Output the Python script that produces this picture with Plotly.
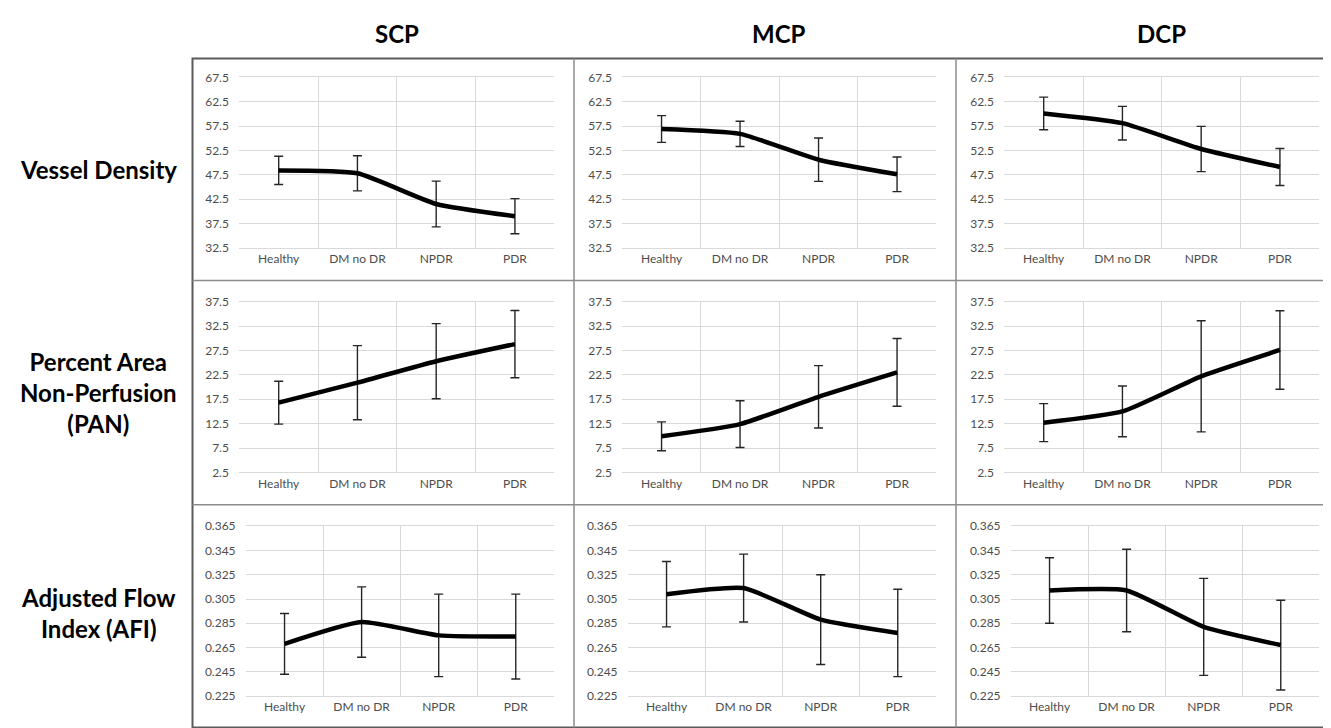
import plotly.graph_objects as go

W, H = 1331, 728

categories = ["Healthy", "DM no DR", "NPDR", "PDR"]
plexuses = ["SCP", "MCP", "DCP"]
metrics = ["Vessel Density", "Percent Area<br>Non-Perfusion<br>(PAN)", "Adjusted Flow<br>Index (AFI)"]

# Vessel Density
vd_scp_mean = [48.4, 47.8, 41.5, 39.0]
vd_scp_sd = [2.9, 3.6, 4.7, 3.6]
vd_mcp_mean = [56.9, 55.9, 50.6, 47.6]
vd_mcp_sd = [2.75, 2.6, 4.45, 3.55]
vd_dcp_mean = [60.1, 58.1, 52.8, 49.1]
vd_dcp_sd = [3.35, 3.45, 4.65, 3.8]

# Percent Area Non-Perfusion
pan_scp_mean = [16.8, 20.9, 25.3, 28.8]
pan_scp_sd = [4.4, 7.6, 7.7, 6.9]
pan_mcp_mean = [9.9, 12.4, 18.0, 23.0]
pan_mcp_sd = [2.95, 4.8, 6.4, 6.95]
pan_dcp_mean = [12.7, 15.0, 22.2, 27.6]
pan_dcp_sd = [3.9, 5.2, 11.4, 8.05]

# Adjusted Flow Index
afi_scp_mean = [0.268, 0.286, 0.275, 0.274]
afi_scp_sd = [0.025, 0.029, 0.034, 0.035]
afi_mcp_mean = [0.309, 0.314, 0.288, 0.277]
afi_mcp_sd = [0.027, 0.028, 0.037, 0.036]
afi_dcp_mean = [0.312, 0.312, 0.282, 0.267]
afi_dcp_sd = [0.027, 0.034, 0.040, 0.037]

# axis settings per row
y_ranges = [[32.5, 67.5], [2.5, 37.5], [0.225, 0.365]]
y_dticks = [5, 5, 0.02]
y_formats = [".1f", ".1f", ".3f"]

data = [
    [(vd_scp_mean, vd_scp_sd), (vd_mcp_mean, vd_mcp_sd), (vd_dcp_mean, vd_dcp_sd)],
    [(pan_scp_mean, pan_scp_sd), (pan_mcp_mean, pan_mcp_sd), (pan_dcp_mean, pan_dcp_sd)],
    [(afi_scp_mean, afi_scp_sd), (afi_mcp_mean, afi_mcp_sd), (afi_dcp_mean, afi_dcp_sd)],
]

# layout geometry in pixels
row_y = [(62.7, 236.7), (291.7, 466.0), (521.0, 694.3)]
col_x = [
    [(231.3, 546.3), (614.3, 928.3), (996.3, 1311.3)],
    [(231.3, 546.3), (614.3, 928.3), (996.3, 1311.3)],
    [(238.0, 546.3), (620.0, 928.3), (1003.0, 1311.3)],
]

def fx(px):
    return px / W

def fy(py):
    return 1 - py / H

FONT = "Lato"
TICK_COLOR = "#4d4d4d"
GRID = "#d9d9d9"

fig = go.Figure()
layout = {}
idx = 0
for r in range(3):
    for c in range(3):
        idx += 1
        xa = "x" if idx == 1 else f"x{idx}"
        ya = "y" if idx == 1 else f"y{idx}"
        mean, sd = data[r][c]
        fig.add_trace(go.Scatter(
            x=categories, y=mean, xaxis=xa, yaxis=ya,
            mode="lines",
            line=dict(color="black", width=4.5, shape="spline", smoothing=0.5),
            error_y=dict(type="data", array=sd, visible=True, color="#262626",
                         thickness=1.4, width=4.5),
            showlegend=False, hoverinfo="skip",
        ))
        x0, x1 = col_x[r][c]
        y0, y1 = row_y[r]
        layout["xaxis" if idx == 1 else f"xaxis{idx}"] = dict(
            domain=[fx(x0), fx(x1)], anchor=ya,
            type="category", tickson="boundaries",
            showgrid=True, gridcolor=GRID, gridwidth=1,
            showline=True, linecolor=GRID, linewidth=1, mirror=True,
            ticks="", zeroline=False, fixedrange=True,
            tickfont=dict(family=FONT, size=12, color=TICK_COLOR),
            range=[-0.5, 3.5],
        )
        layout["yaxis" if idx == 1 else f"yaxis{idx}"] = dict(
            domain=[fy(y1), fy(y0)], anchor=xa,
            range=y_ranges[r], tick0=y_ranges[r][0], dtick=y_dticks[r],
            tickformat=y_formats[r],
            showgrid=True, gridcolor=GRID, gridwidth=1,
            showline=False, zeroline=False, fixedrange=True,
            ticks="outside", ticklen=7, tickcolor="rgba(0,0,0,0)",
            tickfont=dict(family=FONT, size=12, color=TICK_COLOR),
        )

annotations = []
title_x = [389, 771, 1153]
for c, name in enumerate(plexuses):
    annotations.append(dict(
        text=f"<b>{name}</b>", x=fx(title_x[c]), y=fy(18), xref="paper", yref="paper",
        showarrow=False, xanchor="center", yanchor="middle",
        font=dict(family=FONT, size=24, color="black"),
    ))
label_y = [156.5, 384.5, 610]
for r, name in enumerate(metrics):
    annotations.append(dict(
        text=f"<b>{name}</b>", x=fx(90), y=fy(label_y[r]), xref="paper", yref="paper",
        showarrow=False, xanchor="center", yanchor="middle", align="center",
        font=dict(family=FONT, size=24, color="black"),
    ))

shapes = []
BORDER = "#5a5a5a"
INNER = "#8c8c8c"
shapes.append(dict(type="rect", xref="paper", yref="paper",
                   x0=fx(184.5), x1=fx(1328.5), y0=fy(726.5), y1=fy(43.5),
                   line=dict(color=BORDER, width=2)))
for px in [566, 948]:
    shapes.append(dict(type="line", xref="paper", yref="paper",
                       x0=fx(px), x1=fx(px), y0=fy(726.5), y1=fy(43.5),
                       line=dict(color=INNER, width=1.5)))
for py in [270, 499]:
    shapes.append(dict(type="line", xref="paper", yref="paper",
                       x0=fx(184.5), x1=fx(1328.5), y0=fy(py), y1=fy(py),
                       line=dict(color=INNER, width=1.5)))

fig.update_layout(
    width=W, height=H,
    margin=dict(l=0, r=0, t=0, b=0),
    paper_bgcolor="white", plot_bgcolor="white",
    annotations=annotations, shapes=shapes,
    **layout,
)

fig.write_html("out.html", config={"displayModeBar": False})
